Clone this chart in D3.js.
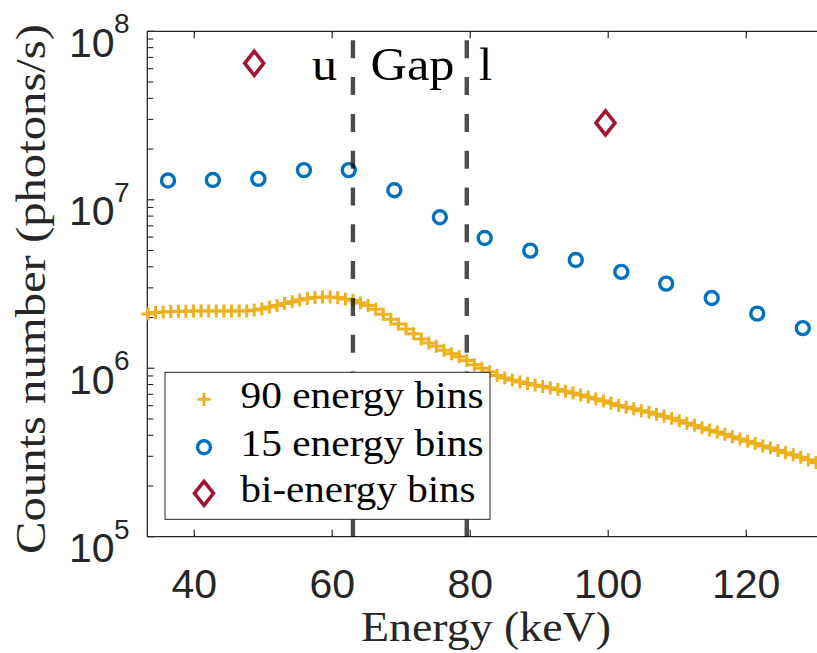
<!DOCTYPE html>
<html>
<head>
<meta charset="utf-8">
<script src="https://cdn.jsdelivr.net/npm/d3@7/dist/d3.min.js"></script>
<style>
  body { margin: 0; background: #fff; }
  svg { display: block; }
</style>
</head>
<body>
<script>
// 90 energy bins spectrum (keV, photons/s)
var energy90 = [33.3, 34.4, 35.5, 36.6, 37.7, 38.8, 39.9, 41.0, 42.1, 43.2,
  44.3, 45.4, 46.5, 47.6, 48.7, 49.8, 50.9, 52.0, 53.1, 54.2,
  55.3, 56.4, 57.5, 58.6, 59.7, 60.8, 61.9, 63.0, 64.1, 65.2,
  66.3, 67.4, 68.5, 69.6, 70.7, 71.8, 72.9, 74.0, 75.1, 76.2,
  77.3, 78.4, 79.5, 80.6, 81.7, 82.8, 83.9, 85.0, 86.1, 87.2,
  88.3, 89.4, 90.5, 91.6, 92.7, 93.8, 94.9, 96.0, 97.1, 98.2,
  99.3, 100.4, 101.5, 102.6, 103.7, 104.8, 105.9, 107.0, 108.1, 109.2,
  110.3, 111.4, 112.5, 113.6, 114.7, 115.8, 116.9, 118.0, 119.1, 120.2,
  121.3, 122.4, 123.5, 124.6, 125.7, 126.8, 127.9, 129.0, 130.1, 131.2];
var counts90 = [2.10e6, 2.14e6, 2.16e6, 2.17e6, 2.18e6, 2.18e6, 2.19e6, 2.19e6, 2.19e6, 2.19e6,
  2.19e6, 2.19e6, 2.19e6, 2.19e6, 2.22e6, 2.25e6, 2.31e6, 2.36e6, 2.42e6, 2.48e6,
  2.54e6, 2.59e6, 2.63e6, 2.65e6, 2.65e6, 2.63e6, 2.58e6, 2.53e6, 2.44e6, 2.36e6,
  2.24e6, 2.09e6, 1.95e6, 1.83e6, 1.71e6, 1.60e6, 1.49e6, 1.41e6, 1.35e6, 1.28e6,
  1.22e6, 1.17e6, 1.11e6, 1.05e6, 1.00e6, 9.51e5, 9.06e5, 8.76e5, 8.52e5, 8.29e5,
  8.12e5, 7.96e5, 7.80e5, 7.64e5, 7.48e5, 7.31e5, 7.14e5, 6.94e5, 6.76e5, 6.57e5,
  6.38e5, 6.19e5, 6.01e5, 5.87e5, 5.74e5, 5.60e5, 5.47e5, 5.33e5, 5.19e5, 5.04e5,
  4.88e5, 4.72e5, 4.58e5, 4.43e5, 4.30e5, 4.18e5, 4.05e5, 3.92e5, 3.80e5, 3.69e5,
  3.57e5, 3.46e5, 3.36e5, 3.25e5, 3.15e5, 3.06e5, 2.96e5, 2.86e5, 2.76e5, 2.67e5];

// 15 energy bins
var energy15 = [36.2, 42.7, 49.3, 55.9, 62.4, 69.0, 75.6, 82.1, 88.7, 95.3, 101.9, 108.4, 115.0, 121.6, 128.2];
var counts15 = [1.30e7, 1.31e7, 1.33e7, 1.50e7, 1.50e7, 1.14e7, 7.87e6, 5.93e6, 4.99e6, 4.39e6,
  3.73e6, 3.18e6, 2.61e6, 2.11e6, 1.73e6];

// bi-energy bins
var energyBi = [48.7, 99.6];
var countsBi = [6.46e7, 2.86e7];

var gapLines = [63.0, 79.5];
var xTicks = [40, 60, 80, 100, 120];
var yTicks = [1e5, 1e6, 1e7, 1e8];
var legendLabels = ["90 energy bins", "15 energy bins", "bi-energy bins"];

var yellow = "#EDB120", blue = "#0072BD", red = "#A2142F", axisCol = "#262626";
var serif = "'Liberation Serif', 'DejaVu Serif', serif";
var sans = "'Liberation Sans', Arial, sans-serif";

var W = 817, H = 653;
var plotL = 147.3, plotT = 31.3, plotB = 536.7;

var x = d3.scaleLinear().domain([33.2, 130.6]).range([plotL, plotL + 97.4 * 6.9]);
var y = d3.scaleLog().domain([1e5, 1e8]).range([plotB, plotT]);

var svg = d3.select("body").append("svg")
    .attr("width", W)
    .attr("height", H);

// axes box lines (right side falls outside the window)
svg.append("line").attr("x1", plotL).attr("x2", W).attr("y1", plotT).attr("y2", plotT)
    .attr("stroke", axisCol).attr("stroke-width", 1.3);
svg.append("line").attr("x1", plotL).attr("x2", W).attr("y1", plotB).attr("y2", plotB)
    .attr("stroke", axisCol).attr("stroke-width", 1.3);
svg.append("line").attr("x1", plotL).attr("x2", plotL).attr("y1", plotT).attr("y2", plotB)
    .attr("stroke", axisCol).attr("stroke-width", 1.3);

// x ticks, bottom and top, inward
xTicks.forEach(function (t) {
    svg.append("line").attr("x1", x(t)).attr("x2", x(t)).attr("y1", plotB).attr("y2", plotB - 7)
        .attr("stroke", axisCol).attr("stroke-width", 1.2);
    svg.append("line").attr("x1", x(t)).attr("x2", x(t)).attr("y1", plotT).attr("y2", plotT + 7)
        .attr("stroke", axisCol).attr("stroke-width", 1.2);
    svg.append("text").attr("x", x(t)).attr("y", 598)
        .attr("text-anchor", "middle")
        .style("font-family", sans).style("font-size", "41px").attr("fill", axisCol)
        .text(t);
});

// y ticks (major + minor), inward
var minor = [];
yTicks.slice(0, 3).forEach(function (d) {
    for (var m = 2; m <= 9; m++) minor.push(d * m);
});
minor.forEach(function (t) {
    svg.append("line").attr("x1", plotL).attr("x2", plotL + 6).attr("y1", y(t)).attr("y2", y(t))
        .attr("stroke", axisCol).attr("stroke-width", 1.1);
});
yTicks.forEach(function (t) {
    var ty = y(t);
    svg.append("line").attr("x1", plotL).attr("x2", plotL + 7).attr("y1", ty).attr("y2", ty)
        .attr("stroke", axisCol).attr("stroke-width", 1.2);
    svg.append("text").attr("x", 114.5).attr("y", ty + 25.4)
        .attr("text-anchor", "end")
        .style("font-family", sans).style("font-size", "41px").attr("fill", axisCol)
        .text("10");
    svg.append("text").attr("x", 114).attr("y", ty + 2)
        .style("font-family", sans).style("font-size", "28px").attr("fill", axisCol)
        .text(Math.round(Math.log10(t)));
});

// axis labels
svg.append("text").attr("x", 486).attr("y", 641)
    .attr("text-anchor", "middle")
    .attr("textLength", 250).attr("lengthAdjust", "spacingAndGlyphs")
    .style("font-family", serif).style("font-size", "42px").attr("fill", axisCol)
    .text("Energy (keV)");
svg.append("text")
    .attr("transform", "translate(45,289) rotate(-90)")
    .attr("text-anchor", "middle")
    .attr("textLength", 530).attr("lengthAdjust", "spacingAndGlyphs")
    .style("font-family", serif).style("font-size", "42px").attr("fill", axisCol)
    .text("Counts number (photons/s)");

// marker helpers
function plus(g, cx, cy) {
    g.append("path")
        .attr("d", "M" + (cx - 6.5) + "," + cy + "H" + (cx + 6.5) + "M" + cx + "," + (cy - 6.5) + "V" + (cy + 6.5))
        .attr("stroke", yellow).attr("stroke-width", 3).attr("fill", "none");
}
function ring(g, cx, cy) {
    g.append("circle").attr("cx", cx).attr("cy", cy).attr("r", 6.5)
        .attr("stroke", blue).attr("stroke-width", 3.4).attr("fill", "none");
}
function diamond(g, cx, cy) {
    g.append("path")
        .attr("d", "M" + cx + "," + (cy - 12) + "L" + (cx + 9.5) + "," + cy + "L" + cx + "," + (cy + 12) + "L" + (cx - 9.5) + "," + cy + "Z")
        .attr("stroke", red).attr("stroke-width", 3.6).attr("stroke-linejoin", "miter").attr("fill", "none");
}

var inside = function (e) { return e >= x.domain()[0] && e <= x.domain()[1]; };

// 90 bins
var g90 = svg.append("g");
energy90.forEach(function (e, i) {
    if (inside(e)) plus(g90, x(e), y(counts90[i]));
});
// 15 bins
var g15 = svg.append("g");
energy15.forEach(function (e, i) { ring(g15, x(e), y(counts15[i])); });
// bi-energy
var gBi = svg.append("g");
energyBi.forEach(function (e, i) { diamond(gBi, x(e), y(countsBi[i])); });

// gap boundaries
gapLines.forEach(function (e) {
    svg.append("line")
        .attr("x1", x(e)).attr("x2", x(e))
        .attr("y1", y(1e5)).attr("y2", y(1e8))
        .attr("stroke", "#000").attr("stroke-opacity", 0.7)
        .attr("stroke-width", 4.4)
        .attr("stroke-dasharray", "18,18.8");
});

// annotations
function note(txt, xp, len) {
    svg.append("text").attr("x", xp).attr("y", 80)
        .attr("textLength", len).attr("lengthAdjust", "spacingAndGlyphs")
        .style("font-family", serif).style("font-size", "46px").attr("fill", "#000")
        .text(txt);
}
note("u", 312, 25);
note("Gap", 370.5, 84);
note("l", 479, 13);

// legend
var lg = svg.append("g");
lg.append("rect").attr("x", 165).attr("y", 372.3).attr("width", 325).attr("height", 147)
    .attr("fill", "#fff").attr("stroke", axisCol).attr("stroke-width", 1);
var rowY = [399.3, 447.3, 493.3];
plus(lg, 204, rowY[0]);
ring(lg, 204, rowY[1]);
diamond(lg, 204, rowY[2]);
var lens = [243, 243, 235];
legendLabels.forEach(function (t, i) {
    lg.append("text").attr("x", 240.5).attr("y", rowY[i] + 9)
        .attr("textLength", lens[i]).attr("lengthAdjust", "spacingAndGlyphs")
        .style("font-family", serif).style("font-size", "38px").attr("fill", "#000")
        .text(t);
});
</script>
</body>
</html>
